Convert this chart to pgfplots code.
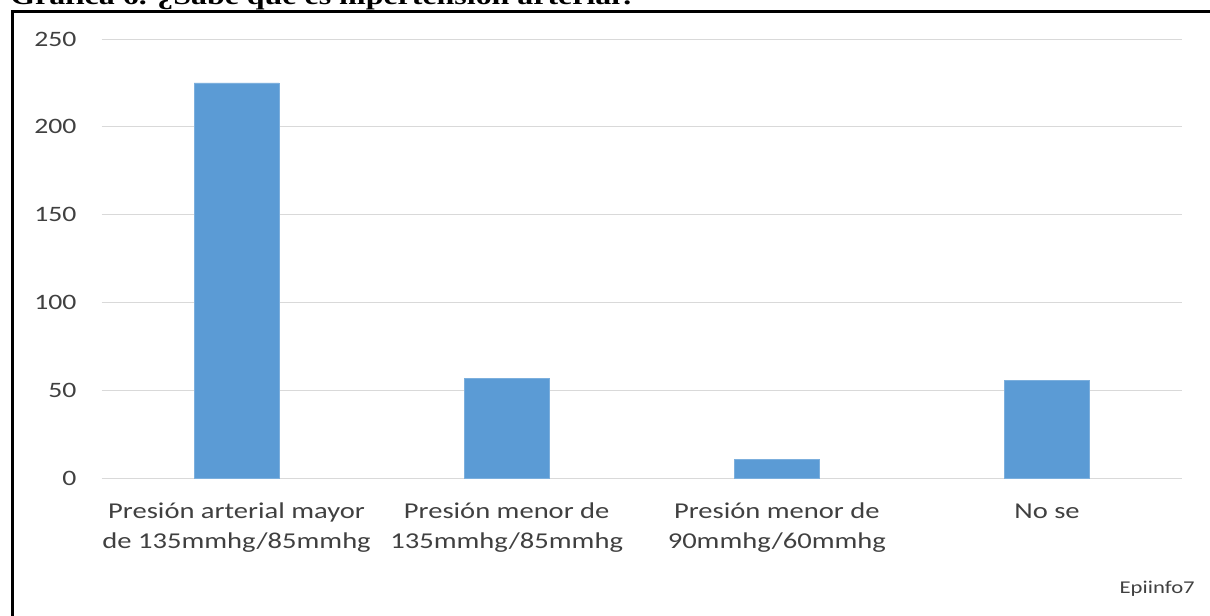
\documentclass[border=0pt]{standalone}
\usepackage{pgfplots}
\pgfplotsset{compat=1.18}
\usepackage{fontspec}
\setmainfont{Carlito}[FakeStretch=1.26]
\newfontfamily\titlefont{Liberation Serif}[FakeStretch=1.26]
\definecolor{barblue}{HTML}{5B9BD5}
\definecolor{gridgray}{HTML}{D9D9D9}
\definecolor{labelgray}{HTML}{404040}

\begin{document}
\begin{tikzpicture}[x=0.75pt,y=0.75pt]
% page: 1210 x 616 units, y measured upward
\useasboundingbox (0,0) rectangle (1210,616);
\node[anchor=base west, inner sep=0pt, font=\titlefont\bfseries\fontsize{19}{22}\selectfont]
  at (10,611) {Gráfica 6. ¿Sabe qué es hipertensión arterial?};
\draw[line width=2.3pt] (12.5,0) -- (12.5,604.7) -- (1210,604.7);

\begin{axis}[
  at={(76.125pt,103.125pt)}, anchor=south west,
  scale only axis, width=810.4pt, height=329.6pt,
  xmin=-0.5, xmax=3.5, ymin=0, ymax=250,
  ytick={0,50,100,150,200,250},
  xtick={0,1,2,3},
  xticklabels={{\strut Presión arterial mayor\\de 135mmhg/85mmhg},
               {\strut Presión menor de\\135mmhg/85mmhg},
               {\strut Presión menor de\\90mmhg/60mmhg},
               {\strut No se}},
  ymajorgrids, grid style={gridgray, line width=0.7pt},
  axis line style={draw=none},
  major tick length=0pt,
  /pgf/number format/assume math mode=true,
  yticklabel style={anchor=east, inner sep=0pt, xshift=-18.6pt,
    font=\fontsize{16.5}{20}\selectfont, text=labelgray},
  xticklabel style={anchor=north, inner sep=0pt, yshift=-13.85pt, align=center,
    font=\fontsize{17}{22.5}\selectfont, text=labelgray},
  ybar, bar width=63.75pt, bar shift=0pt,
  clip=false,
]
\addplot[fill=barblue, draw=barblue!80!white, line width=0.4pt]
  coordinates {(0,225) (1,57) (2,11) (3,56)};
\end{axis}

\node[anchor=base east, inner sep=0pt, font=\fontsize{13.5}{16}\selectfont, text=labelgray]
  at (1195,22) {Epiinfo7};
\end{tikzpicture}
\end{document}
